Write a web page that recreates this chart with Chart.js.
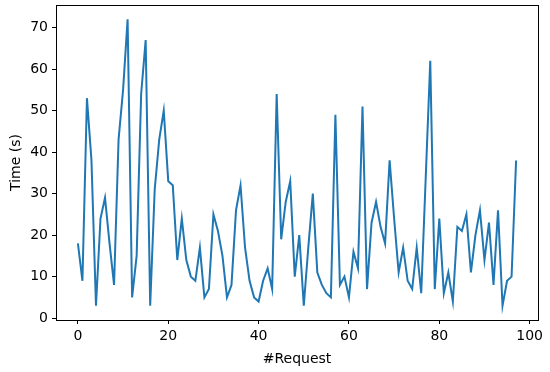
<!DOCTYPE html>
<html>
<head>
<meta charset="utf-8">
<script src="https://cdn.jsdelivr.net/npm/chart.js@4"></script>
<style>
  html, body { margin: 0; padding: 0; background: #fff; }
  #wrap { width: 550px; height: 372px; }
</style>
</head>
<body>
<div id="wrap"><canvas id="chart" width="550" height="372"></canvas></div>
<script>
// time per request
const requestTimes = [
    18, 9, 53, 38, 3, 24, 29, 18, 8, 43,
    55, 72, 5, 15, 54, 67, 3, 31, 43, 50,
    33, 32, 14, 24, 14, 10, 9, 17, 5, 7,
    25, 21, 15, 5, 8, 26, 32, 17, 9, 5,
    4, 9, 12, 7, 54, 19, 28, 33, 10, 20,
    3, 17, 30, 11, 8, 6, 5, 49, 8, 10,
    5, 16, 12, 51, 7, 23, 28, 22, 18, 38,
    24, 11, 17, 9, 7, 17, 6, 34, 62, 7,
    24, 6, 11, 4, 22, 21, 25, 11, 20, 26,
    14, 23, 8, 26, 3, 9, 10, 38
];
const xTicks = [0, 20, 40, 60, 80, 100];
const yTicks = [0, 10, 20, 30, 40, 50, 60, 70];

const points = requestTimes.map((t, i) => ({ x: i, y: t }));

// full box round the plot area
const frame = {
    id: 'frame',
    afterDraw(chart) {
        const a = chart.chartArea;
        const ctx = chart.ctx;
        ctx.save();
        ctx.strokeStyle = '#000';
        ctx.lineWidth = 1;
        ctx.strokeRect(Math.round(a.left) + 0.5, Math.round(a.top) + 0.5,
            Math.round(a.right - a.left), Math.round(a.bottom - a.top));
        ctx.restore();
    }
};

Chart.defaults.font.family = 'DejaVu Sans';
Chart.defaults.font.size = 14;
Chart.defaults.color = '#000';

new Chart(document.getElementById('chart').getContext('2d'), {
    type: 'line',
    data: {
        datasets: [{
            data: points,
            borderColor: '#1f77b4',
            borderWidth: 2,
            pointRadius: 0,
            tension: 0,
            fill: false
        }]
    },
    options: {
        responsive: false,
        animation: false,
        layout: { padding: { top: 5, right: 12, left: 0, bottom: 0 } },
        plugins: { legend: { display: false }, tooltip: { enabled: false } },
        scales: {
            x: {
                type: 'linear',
                min: -4.85,
                max: 101.85,
                afterBuildTicks: s => { s.ticks = xTicks.map(v => ({ value: v })); },
                afterFit: s => { s.height = 52; s.paddingLeft = 0; s.paddingRight = 0; },
                grid: { drawOnChartArea: false, tickLength: 4, tickColor: '#000' },
                border: { display: false },
                ticks: { padding: 4, maxRotation: 0 },
                title: { display: true, text: '#Request', padding: { top: 1 } }
            },
            y: {
                min: -0.45,
                max: 75.45,
                afterBuildTicks: s => { s.ticks = yTicks.map(v => ({ value: v })); },
                afterFit: s => { s.width = 56; s.paddingTop = 0; s.paddingBottom = 0; },
                grid: { drawOnChartArea: false, tickLength: 4, tickColor: '#000' },
                border: { display: false },
                ticks: { padding: 4 },
                title: { display: true, text: 'Time (s)', padding: { top: 8, bottom: 0 } }
            }
        }
    },
    plugins: [frame]
});
</script>
</body>
</html>
